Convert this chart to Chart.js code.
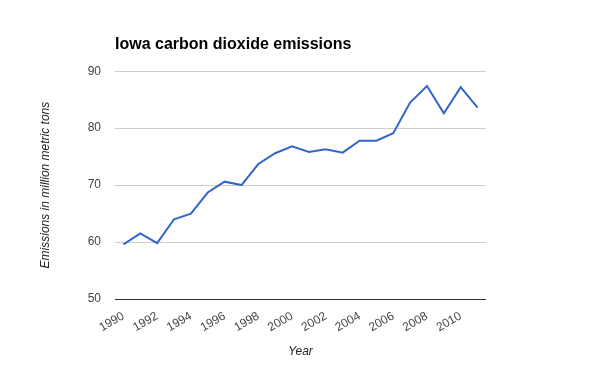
<!DOCTYPE html>
<html>
<head>
<meta charset="utf-8">
<script src="https://cdn.jsdelivr.net/npm/chart.js@4"></script>
<style>
  html, body { margin: 0; padding: 0; background: #fff; }
  #wrap { width: 600px; height: 371px; }
</style>
</head>
<body>
<div id="wrap"><canvas id="myChart"></canvas></div>
<script>
years = ['1990','1991','1992','1993','1994','1995','1996','1997','1998','1999','2000',
         '2001','2002','2003','2004','2005','2006','2007','2008','2009','2010','2011'];
emissions = [59.6, 61.5, 59.8, 64.0, 65.0, 68.7, 70.6, 70.0, 73.7, 75.6, 76.8,
             75.8, 76.3, 75.7, 77.8, 77.8, 79.1, 84.5, 87.4, 82.6, 87.2, 83.6];
yTicks = [50, 60, 70, 80, 90];

const font = "'Liberation Sans', Arial, sans-serif";

function makeChart(){
  const ctx = document.getElementById('myChart');

  new Chart(ctx, {
    type: 'line',
    data: {
      labels: years,
      datasets: [{
        label: 'Emissions',
        data: emissions,
        borderColor: '#3366cc',
        borderWidth: 2,
        pointRadius: 0,
        tension: 0,
        fill: false
      }]
    },
    options: {
      responsive: true,
      maintainAspectRatio: false,
      animation: false,
      layout: { padding: { left: 0, right: 114, top: 0, bottom: 0 } },
      scales: {
        x: {
          offset: true,
          grid: { display: false, drawTicks: false },
          border: { display: false },
          ticks: {
            autoSkip: false,
            minRotation: 30,
            maxRotation: 30,
            padding: 10,
            color: '#444',
            font: { family: font, size: 12 },
            callback: function(v, i){ return i % 2 === 0 ? years[i] : ''; }
          },
          title: {
            display: true,
            text: 'Year',
            color: '#222',
            font: { family: font, size: 12, style: 'italic' },
            padding: { top: 0, bottom: 12 }
          },
          afterFit: function(s){ s.height = 72; }
        },
        y: {
          min: yTicks[0],
          max: yTicks[yTicks.length - 1],
          afterBuildTicks: function(s){ s.ticks = yTicks.map(v => ({ value: v })); },
          grid: {
            drawTicks: false,
            color: function(c){ return c.tick && c.tick.value === 50 ? '#333' : '#ccc'; },
            lineWidth: 1
          },
          border: { display: false },
          ticks: {
            padding: 14,
            color: '#444',
            font: { family: font, size: 12 }
          },
          title: {
            display: true,
            text: 'Emissions in million metric tons',
            color: '#222',
            font: { family: font, size: 12, style: 'italic' },
            padding: { top: 38, bottom: 0 }
          },
          afterFit: function(s){ s.width = 115; }
        }
      },
      plugins: {
        legend: { display: false },
        tooltip: { enabled: false },
        title: {
          display: true,
          text: 'Iowa carbon dioxide emissions',
          align: 'start',
          fullSize: false,
          color: '#000',
          font: { family: font, size: 16, weight: 'bold' },
          padding: { top: 35, bottom: 17 }
        }
      }
    }
  });
}

makeChart();
</script>
</body>
</html>
